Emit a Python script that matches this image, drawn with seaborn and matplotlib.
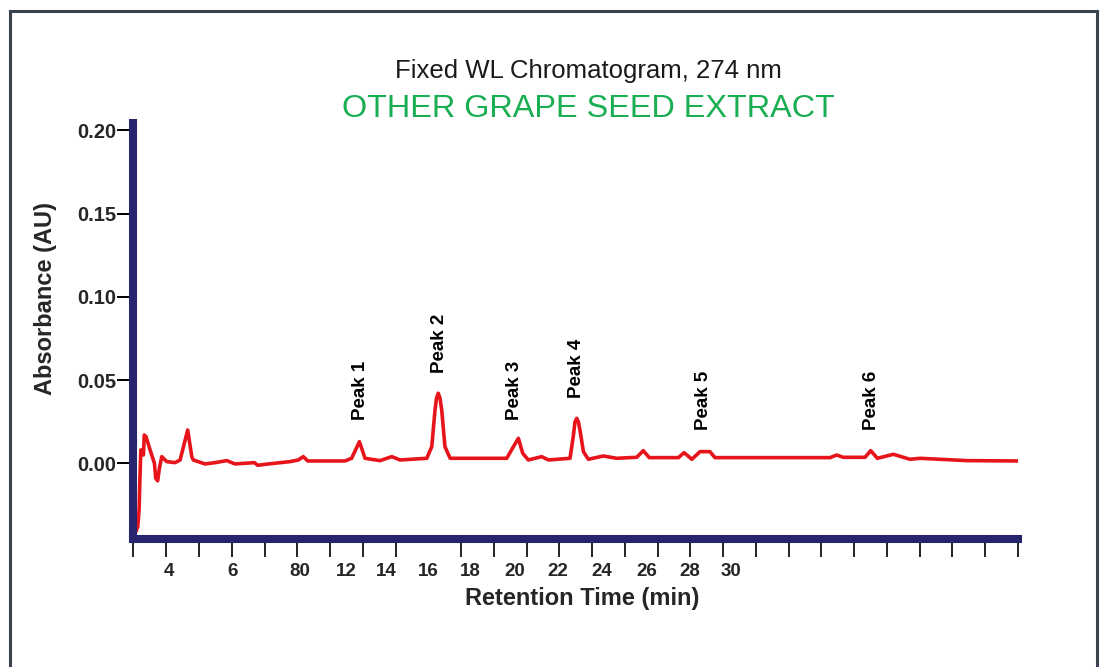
import numpy as np
import pandas as pd
import matplotlib
matplotlib.use("Agg")
import matplotlib.pyplot as plt
import seaborn as sns
from matplotlib.patches import Rectangle

# --- data ---
retention_min = [
    2.33, 2.54, 2.60, 2.64, 2.68, 2.75, 2.80, 2.84, 2.92, 3.11,
    3.31, 3.37, 3.46, 3.54, 3.65, 3.88, 4.26, 4.50, 4.85, 5.04,
    5.11, 5.65, 6.12, 6.66, 7.04, 7.94, 8.09, 8.58, 9.59, 9.97,
    10.20, 10.41, 12.13, 12.44, 12.80, 13.06, 13.76, 14.30, 14.68, 15.92,
    16.15, 16.30, 16.37, 16.45, 16.53, 16.61, 16.76, 17.00, 19.62, 19.93,
    20.16, 20.36, 20.62, 21.24, 21.55, 22.55, 22.70, 22.78, 22.86, 22.94,
    23.01, 23.17, 23.40, 24.09, 24.71, 25.64, 25.94, 26.22, 27.57, 27.83,
    28.19, 28.57, 29.03, 29.26, 34.59, 34.90, 35.20, 36.21, 36.47, 36.78,
    37.52, 38.29, 38.76, 40.92, 43.29,
]
absorbance_au = [
    -0.0450, -0.0381, -0.0281, -0.0081, 0.0080, 0.0080, 0.0050, 0.0170, 0.0160, 0.0080,
    0.0000, -0.0090, -0.0105, -0.0030, 0.0040, 0.0010, 0.0004, 0.0020, 0.0200, 0.0040,
    0.0020, -0.0004, 0.0004, 0.0016, -0.0004, 0.0004, -0.0012, -0.0004, 0.0010, 0.0020,
    0.0040, 0.0014, 0.0014, 0.0030, 0.0130, 0.0030, 0.0016, 0.0040, 0.0020, 0.0030,
    0.0100, 0.0320, 0.0392, 0.0421, 0.0392, 0.0320, 0.0100, 0.0030, 0.0030, 0.0100,
    0.0150, 0.0060, 0.0020, 0.0040, 0.0020, 0.0030, 0.0160, 0.0248, 0.0270, 0.0248,
    0.0200, 0.0070, 0.0024, 0.0044, 0.0030, 0.0036, 0.0076, 0.0034, 0.0034, 0.0064,
    0.0024, 0.0070, 0.0070, 0.0034, 0.0034, 0.0050, 0.0036, 0.0036, 0.0076, 0.0030,
    0.0054, 0.0024, 0.0030, 0.0016, 0.0014,
]

peak_names = ["Peak 1", "Peak 2", "Peak 3", "Peak 4", "Peak 5", "Peak 6"]
peak_label_x = [12.83, 16.53, 20.00, 22.87, 28.71, 36.53]
peak_label_y = [0.026, 0.0543, 0.026, 0.0393, 0.020, 0.020]

x_tick_pos = [4.0, 6.91, 10.05, 12.21, 14.06, 15.99, 17.92, 20.0, 22.0, 24.0, 26.1, 28.1, 30.0]
x_tick_labels = ["4", "6", "80", "12", "14", "16", "18", "20", "22", "24", "26", "28", "30"]
y_ticks = [0.00, 0.05, 0.10, 0.15, 0.20]

x_min, x_max = 2.34, 43.29
y_min, y_max = -0.0455, 0.2045

navy = "#26266f"
red = "#e8141c"
green = "#1aae52"

sns.set_theme(style="white")
plt.rcParams["font.family"] = ["Liberation Sans", "DejaVu Sans"]

df = pd.DataFrame({"t": retention_min, "au": absorbance_au})

fig = plt.figure(figsize=(11.04, 6.67), dpi=100)
ax = fig.add_axes([0.1209, 0.1919, 0.8012, 0.6237])

sns.lineplot(data=df, x="t", y="au", ax=ax, color=red, linewidth=2.6,
             estimator=None, sort=False)
for ln in ax.lines:
    ln.set_solid_joinstyle("round")
    ln.set_solid_capstyle("round")

ax.set_xlim(x_min, x_max)
ax.set_ylim(y_min, y_max)

for side in ["top", "right"]:
    ax.spines[side].set_visible(False)
for side in ["left", "bottom"]:
    ax.spines[side].set_linewidth(5.8)
    ax.spines[side].set_color(navy)

# x axis: unlabeled evenly spaced ticks + labels at their own spots
ax.set_xticks(np.linspace(x_min, x_max, 28), minor=True)
ax.set_xticks(x_tick_pos)
ax.set_xticklabels(x_tick_labels, fontsize=13.5, fontweight="bold")
ax.tick_params(axis="x", which="major", bottom=True, length=0, pad=17)
ax.tick_params(axis="x", which="minor", bottom=True, length=13, width=1.4,
               color="#222222", direction="out")

ax.set_yticks(y_ticks)
ax.set_yticklabels([f"{v:.2f}" for v in y_ticks], fontsize=14.5, fontweight="bold")
ax.tick_params(axis="y", left=True, length=11.5, width=1.4, color="black", pad=1)

ax.set_xlabel("Retention Time (min)", fontsize=17, fontweight="bold")
ax.xaxis.set_label_coords(0.507, -0.142)
ax.xaxis.label.set_va("center")
ax.set_ylabel("Absorbance (AU)", fontsize=17, fontweight="bold")
ax.yaxis.set_label_coords(-0.10, 0.579)
ax.yaxis.label.set_va("center")

for name, px, py in zip(peak_names, peak_label_x, peak_label_y):
    ax.text(px, py, name, rotation=90, ha="center", va="bottom",
            fontsize=13.5, fontweight="bold", color="black")

fig.text(0.5326, 0.8826, "Fixed WL Chromatogram, 274 nm", ha="center",
         va="baseline", fontsize=18.5, color="#1a1a1a")
fig.text(0.5326, 0.825, "OTHER GRAPE SEED EXTRACT", ha="center",
         va="baseline", fontsize=23.3, color=green)

# frame around the whole picture (open at the bottom edge)
fig.patches.append(Rectangle((10 / 1104, -0.05), 1087 / 1104, 0.9835 + 0.05,
                             transform=fig.transFigure, fill=False,
                             edgecolor="#3a4450", linewidth=2.2))

fig.savefig("out.png", dpi=100)
plt.close(fig)
